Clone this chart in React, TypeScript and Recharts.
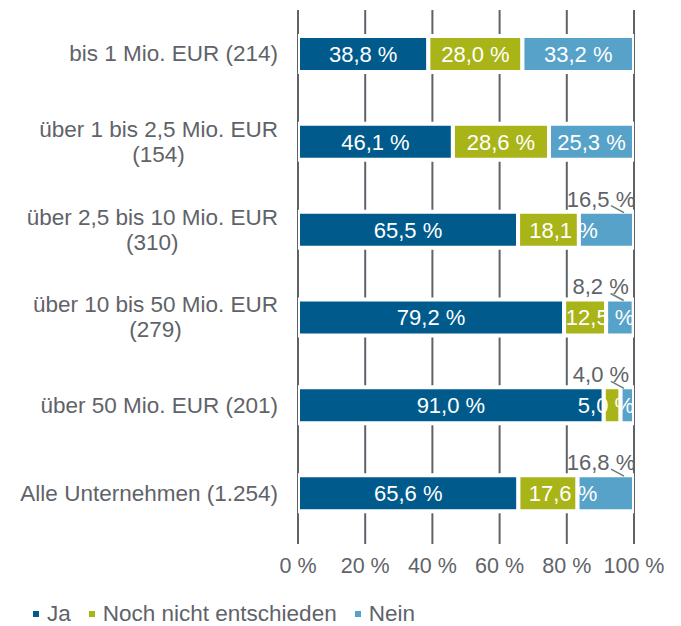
import React from "react";
import { BarChart, Bar, XAxis, YAxis, CartesianGrid, LabelList, Legend } from "recharts";

const categories = [
  "bis 1 Mio. EUR (214)",
  "über 1 bis 2,5 Mio. EUR\n(154)",
  "über 2,5 bis 10 Mio. EUR\n(310)",
  "über 10 bis 50 Mio. EUR\n(279)",
  "über 50 Mio. EUR (201)",
  "Alle Unternehmen (1.254)",
];
const ja = [38.8, 46.1, 65.5, 79.2, 91.0, 65.6];
const noch = [28.0, 28.6, 18.1, 12.5, 5.0, 17.6];
const nein = [33.2, 25.3, 16.5, 8.2, 4.0, 16.8];
const xTicks = [0, 20, 40, 60, 80, 100];
const boundaryTicks = [0, 1, 2, 3, 4, 5, 6];

const seriesInfo = [
  { key: "ja", name: "Ja", color: "#005b8c" },
  { key: "noch", name: "Noch nicht entschieden", color: "#a9b419" },
  { key: "nein", name: "Nein", color: "#57a2c9" },
];

const data = categories.map((name, i) => ({ name, ja: ja[i], noch: noch[i], nein: nein[i] }));

const FONT = '"Liberation Sans", Arial, sans-serif';
const GRAY = "#5f6369";
const LINE = "#5f6368";
const PLOT_RIGHT = 634;

const fmt = (v: number) => v.toFixed(1).replace(".", ",") + " %";

const InsideLabel = (props: any) => {
  const { x, y, width, height, value } = props;
  return (
    <text
      x={x + width / 2}
      y={y + height / 2}
      dy="0.36em"
      textAnchor="middle"
      fill="#ffffff"
      fontSize={22}
      fontFamily={FONT}
    >
      {fmt(Number(value))}
    </text>
  );
};

const NochLabel = (props: any) => {
  const { x, y, width, height, value } = props;
  const v = Number(value);
  const label = fmt(v);
  let cx = x + width / 2;
  if (v < 20) {
    const half = label.length * 5.6;
    cx = Math.min(cx + 15, PLOT_RIGHT - half);
  }
  return (
    <text
      x={cx}
      y={y + height / 2}
      dy="0.36em"
      textAnchor="middle"
      fill="#ffffff"
      fontSize={22}
      fontFamily={FONT}
    >
      {label}
    </text>
  );
};

const NeinLabel = (props: any) => {
  const { x, y, width, value } = props;
  const v = Number(value);
  if (v >= 20) return <InsideLabel {...props} />;
  const right = x + width;
  return (
    <g>
      <text
        x={right - 33}
        y={y - 13}
        dy="0.36em"
        textAnchor="middle"
        fill={GRAY}
        fontSize={22}
        fontFamily={FONT}
      >
        {fmt(v)}
      </text>
      <line x1={right - 23} y1={y - 6} x2={right - 10} y2={y + 1} stroke="#6a7d78" strokeWidth={1.5} />
    </g>
  );
};

const CatTick = (props: any) => {
  const { x, y, payload } = props;
  return (
    <foreignObject x={x - 300} y={y - 40} width={300} height={80}>
      <div
        style={{
          height: 80,
          display: "flex",
          alignItems: "center",
          justifyContent: "flex-end",
        }}
      >
        <div
          style={{
            textAlign: "center",
            whiteSpace: "pre-line",
            fontFamily: FONT,
            fontSize: 22.5,
            lineHeight: "25px",
            color: GRAY,
          }}
        >
          {payload.value}
        </div>
      </div>
    </foreignObject>
  );
};

const LegendContent = () => (
  <div
    style={{
      display: "flex",
      alignItems: "center",
      paddingLeft: 33,
      fontFamily: FONT,
      fontSize: 22.5,
      lineHeight: "25px",
      color: GRAY,
    }}
  >
    {seriesInfo.map((s) => (
      <div key={s.key} style={{ display: "flex", alignItems: "center", marginRight: 18 }}>
        <span style={{ width: 6, height: 6, background: s.color, marginRight: 8, display: "inline-block" }} />
        <span>{s.name}</span>
      </div>
    ))}
  </div>
);

export default function App() {
  return (
    <div style={{ position: "absolute", left: 0, top: 0, width: 681, height: 626, background: "#fff" }}>
      <BarChart
        width={681}
        height={626}
        data={data}
        layout="vertical"
        margin={{ top: 10, right: 47, left: 0, bottom: 29 }}
        barSize={36}
      >
        <CartesianGrid horizontal={false} vertical={true} stroke={LINE} strokeWidth={2} yAxisId="cat" />
        <XAxis
          type="number"
          domain={[0, 100]}
          allowDataOverflow
          ticks={xTicks}
          tickFormatter={(v: number) => `${v} %`}
          axisLine={false}
          tickLine={{ stroke: LINE, strokeWidth: 2 }}
          tickSize={7}
          tickMargin={14}
          height={60}
          tick={{ fill: GRAY, fontSize: 21.5, fontFamily: FONT }}
          interval={0}
        />
        {seriesInfo.map((s) => (
          <Bar
            key={s.key}
            dataKey={s.key}
            name={s.name}
            stackId="a"
            yAxisId="cat"
            fill={s.color}
            stroke="#ffffff"
            strokeWidth={4}
            isAnimationActive={false}
          >
            <LabelList
              dataKey={s.key}
              content={s.key === "nein" ? <NeinLabel /> : s.key === "noch" ? <NochLabel /> : <InsideLabel />}
            />
          </Bar>
        ))}
        <YAxis
          yAxisId="cat"
          type="category"
          dataKey="name"
          width={298}
          axisLine={false}
          tickLine={false}
          tickSize={0}
          tickMargin={20}
          tick={<CatTick />}
          interval={0}
        />
        <YAxis
          yAxisId="grid"
          type="number"
          domain={[0, 6]}
          ticks={boundaryTicks}
          width={0}
          tickSize={6}
          tickFormatter={() => ""}
          axisLine={{ stroke: LINE, strokeWidth: 2 }}
          tickLine={{ stroke: LINE, strokeWidth: 2 }}
          interval={0}
        />
        <Legend
          layout="horizontal"
          verticalAlign="middle"
          align="center"
          wrapperStyle={{ top: 601, left: 0, width: 681 }}
          content={<LegendContent />}
        />
      </BarChart>
    </div>
  );
}
